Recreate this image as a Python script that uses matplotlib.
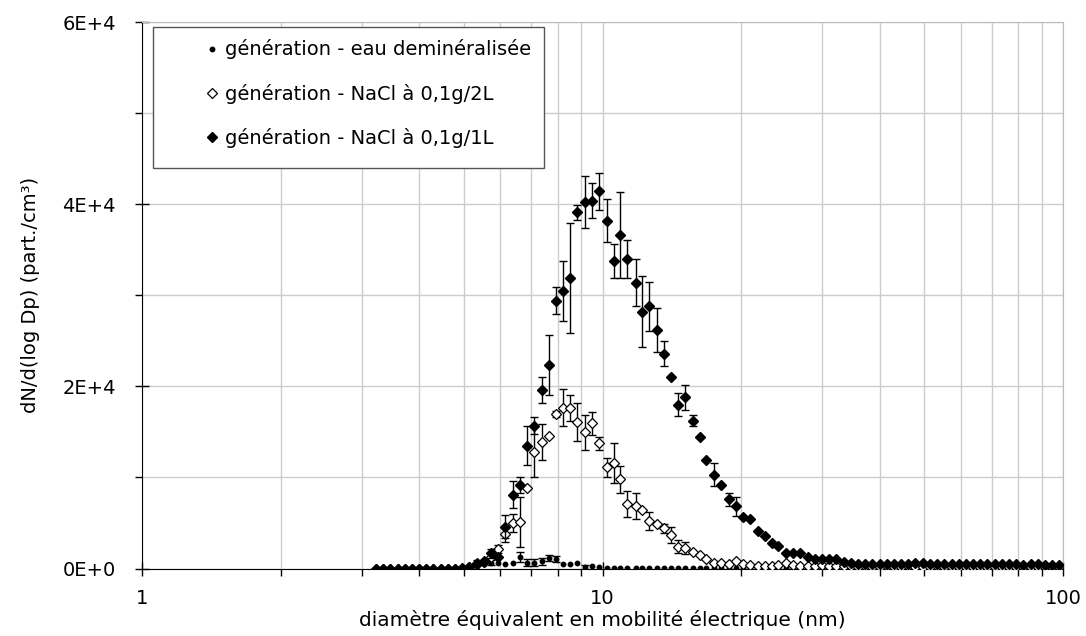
import numpy as np
import matplotlib
matplotlib.use("Agg")
import matplotlib.pyplot as plt
from matplotlib.lines import Line2D
from matplotlib.patches import Rectangle
from matplotlib.ticker import MultipleLocator, FuncFormatter, LogLocator, NullFormatter

# SMPS channel mid-points (nm)
diam = [3.22, 3.34, 3.46, 3.59, 3.72, 3.85, 3.99, 4.14, 4.29, 4.45, 4.61, 4.78,
        4.96, 5.14, 5.33, 5.52, 5.73, 5.94, 6.15, 6.38, 6.61, 6.85, 7.10, 7.37,
        7.64, 7.91, 8.20, 8.51, 8.82, 9.14, 9.47, 9.82, 10.2, 10.6, 10.9, 11.3,
        11.8, 12.2, 12.6, 13.1, 13.6, 14.1, 14.6, 15.1, 15.7, 16.3, 16.8, 17.5,
        18.1, 18.8, 19.5, 20.2, 20.9, 21.7, 22.5, 23.3, 24.1, 25.0, 25.9, 26.9,
        27.9, 28.9, 30.0, 31.1, 32.2, 33.4, 34.6, 35.9, 37.2, 38.5, 40.0, 41.4,
        42.9, 44.5, 46.1, 47.8, 49.6, 51.4, 53.3, 55.2, 57.3, 59.4, 61.5, 63.8,
        66.1, 68.5, 71.0, 73.7, 76.4, 79.1, 82.0, 85.1, 88.2, 91.4, 94.7, 98.2]

# génération - NaCl à 0,1g/1L (filled diamonds)
nacl_1l = [0, 0, 0, 0, 0, 0, 0, 0, 0, 0, 0, 0,
           50, 150, 450, 700, 1650, 1300, 4600, 8100, 9200, 13500, 15700, 19600,
           22300, 29400, 30500, 31900, 39100, 40200, 40400, 41400, 38200, 33800, 36600, 34000,
           31400, 28200, 28800, 26200, 23600, 21000, 18000, 18800, 16200, 14400, 11900, 10300,
           9200, 7600, 6850, 5650, 5450, 4100, 3600, 2800, 2500, 1700, 1700, 1700,
           1250, 1050, 1050, 1000, 1050, 700, 600, 550, 500, 550, 500, 450,
           500, 550, 500, 600, 650, 550, 500, 500, 450, 500, 550, 500,
           450, 500, 450, 450, 500, 450, 400, 450, 450, 400, 400, 350]
nacl_1l_err = [0, 0, 0, 0, 0, 0, 0, 0, 0, 0, 0, 0,
               0, 0, 0, 0, 500, 0, 1300, 1500, 900, 2100, 900, 1450,
               3300, 1500, 3300, 6000, 800, 2850, 1900, 2050, 2400, 1850, 4750, 2100,
               2550, 3900, 2700, 2400, 1350, 0, 1300, 1350, 600, 0, 0, 1250,
               0, 700, 1050, 0, 0, 0, 0, 0, 0, 0, 0, 0,
               0, 0, 0, 0, 0, 0, 0, 0, 0, 0, 0, 0,
               0, 0, 0, 0, 0, 0, 0, 0, 0, 0, 0, 0,
               0, 0, 0, 0, 0, 0, 0, 0, 0, 0, 0, 0]

# génération - NaCl à 0,1g/2L (open diamonds)
nacl_2l = [0, 0, 0, 0, 0, 0, 0, 0, 0, 0, 0, 0,
           0, 200, 650, 800, 1300, 2100, 3800, 5000, 5150, 8800, 12800, 13900,
           14550, 16950, 17650, 17650, 16100, 14950, 15950, 13750, 11100, 11550, 9800, 7100,
           6850, 6400, 5250, 4850, 4400, 3700, 2400, 2250, 1800, 1450, 1000, 650,
           650, 550, 800, 450, 350, 300, 300, 250, 350, 600, 400, 300,
           250, 300, 400, 250, 300, 250, 250, 200, 250, 200, 200, 250,
           200, 200, 250, 200, 200, 200, 250, 200, 200, 200, 200, 200,
           200, 200, 150, 200, 200, 150, 150, 200, 150, 150, 150, 150]
nacl_2l_err = [0, 0, 0, 0, 0, 0, 0, 0, 0, 0, 0, 0,
               0, 0, 300, 0, 0, 450, 900, 950, 2750, 0, 2700, 2000,
               0, 300, 2050, 1400, 2050, 1900, 1250, 700, 1000, 2200, 1500, 1400,
               1400, 0, 1000, 0, 500, 900, 700, 700, 0, 0, 0, 0,
               0, 0, 0, 0, 0, 0, 0, 0, 0, 0, 0, 0,
               0, 0, 0, 0, 0, 0, 0, 0, 0, 0, 0, 0,
               0, 0, 0, 0, 0, 0, 0, 0, 0, 0, 0, 0,
               0, 0, 0, 0, 0, 0, 0, 0, 0, 0, 0, 0]

# génération - eau deminéralisée (dots)
eau = [0, 0, 0, 0, 0, 0, 0, 0, 0, 0, 0, 0,
       0, 100, 300, 500, 650, 650, 450, 650, 1300, 650, 650, 800,
       1150, 1050, 500, 550, 650, 200, 250, 150, 100, 100, 80, 80,
       80, 60, 60, 60, 50, 50, 50, 40, 40, 40, 40, 30,
       30, 30, 30, 30, 30, 20, 20, 20, 20, 20, 20, 20,
       20, 20, 20, 10, 10, 10, 10, 10, 10, 10, 10, 10,
       10, 10, 10, 10, 10, 10, 10, 10, 10, 10, 10, 10,
       10, 10, 10, 10, 10, 10, 10, 10, 10, 10, 10, 10]
eau_err = [0, 0, 0, 0, 0, 0, 0, 0, 0, 0, 0, 0,
           0, 0, 0, 0, 300, 0, 0, 0, 550, 400, 400, 400,
           350, 350, 0, 0, 0, 200, 0, 0, 0, 0, 0, 0,
           0, 0, 0, 0, 0, 0, 0, 0, 0, 0, 0, 0,
           0, 0, 0, 0, 0, 0, 0, 0, 0, 0, 0, 0,
           0, 0, 0, 0, 0, 0, 0, 0, 0, 0, 0, 0,
           0, 0, 0, 0, 0, 0, 0, 0, 0, 0, 0, 0,
           0, 0, 0, 0, 0, 0, 0, 0, 0, 0, 0, 0]

labels = ["génération - eau deminéralisée",
          "génération - NaCl à 0,1g/2L",
          "génération - NaCl à 0,1g/1L"]


def sci_fmt(v, pos):
    if v == 0:
        return "0E+0"
    e = int(np.floor(np.log10(abs(v))))
    return f"{v / 10**e:g}E+{e}"


def draw_errors(ax, x, y, err, z):
    x, y, err = np.asarray(x), np.asarray(y), np.asarray(err)
    m = err > 0
    ax.errorbar(x[m], y[m], yerr=err[m], fmt="none", ecolor="black",
                elinewidth=1.0, capsize=3.0, capthick=1.0, zorder=z)


plt.rcParams["font.family"] = "DejaVu Sans"

fig = plt.figure(figsize=(10.86, 6.36), dpi=100)
ax = fig.add_axes([0.1308, 0.1061, 0.8481, 0.8593])

draw_errors(ax, diam, eau, eau_err, 3)
ax.plot(diam, eau, "o", ms=3.2, color="black", zorder=3)
draw_errors(ax, diam, nacl_2l, nacl_2l_err, 4)
ax.plot(diam, nacl_2l, "D", ms=5.3, mfc="white", mec="black", mew=0.9, ls="none", zorder=4)
draw_errors(ax, diam, nacl_1l, nacl_1l_err, 5)
ax.plot(diam, nacl_1l, "D", ms=5.4, color="black", ls="none", zorder=5)

ax.set_xscale("log")
ax.set_xlim(1, 100)
ax.set_ylim(0, 6e4)
ax.yaxis.set_major_locator(MultipleLocator(2e4))
ax.yaxis.set_minor_locator(MultipleLocator(1e4))
ax.yaxis.set_major_formatter(FuncFormatter(sci_fmt))
ax.xaxis.set_major_formatter(FuncFormatter(lambda v, p: f"{v:g}"))
ax.xaxis.set_minor_locator(LogLocator(base=10, subs=range(2, 10)))
ax.xaxis.set_minor_formatter(NullFormatter())

ax.grid(which="both", color="#cccccc", linewidth=1.0)
ax.set_axisbelow(True)
for s in ["top", "right"]:
    ax.spines[s].set_color("#bbbbbb")
ax.tick_params(which="major", direction="inout", length=10, width=1, labelsize=14, pad=10)
ax.tick_params(which="minor", direction="out", length=5, width=1)
ax.tick_params(axis="y", which="major", pad=14)

ax.set_xlabel("diamètre équivalent en mobilité électrique (nm)", fontsize=14.5, labelpad=1)
ax.set_ylabel("dN/d(log Dp) (part./cm³)", fontsize=14, labelpad=16)

handles = [Line2D([], [], marker="o", ms=3.2, color="black", ls="none"),
           Line2D([], [], marker="D", ms=5.3, mfc="white", mec="black", mew=0.9, ls="none"),
           Line2D([], [], marker="D", ms=5.4, color="black", ls="none")]
leg = ax.legend(handles, labels, loc="upper left", bbox_to_anchor=(0.064, 0.968),
                frameon=False, fontsize=14, labelspacing=1.25, handlelength=1.14,
                handletextpad=0.1, borderpad=0, borderaxespad=0)
leg.set_zorder(7)

# legend box (Excel style, square corners), sized to the legend text
fig.canvas.draw()
lb = leg.get_window_extent().transformed(ax.transAxes.inverted())
x0, y0, y1 = 0.012, 0.733, 0.991
box = Rectangle((x0, y0), lb.x1 + 0.014 - x0, y1 - y0, transform=ax.transAxes,
                facecolor="white", edgecolor="#555555", linewidth=1.0, zorder=6)
ax.add_patch(box)

fig.savefig("out.png", dpi=100)
